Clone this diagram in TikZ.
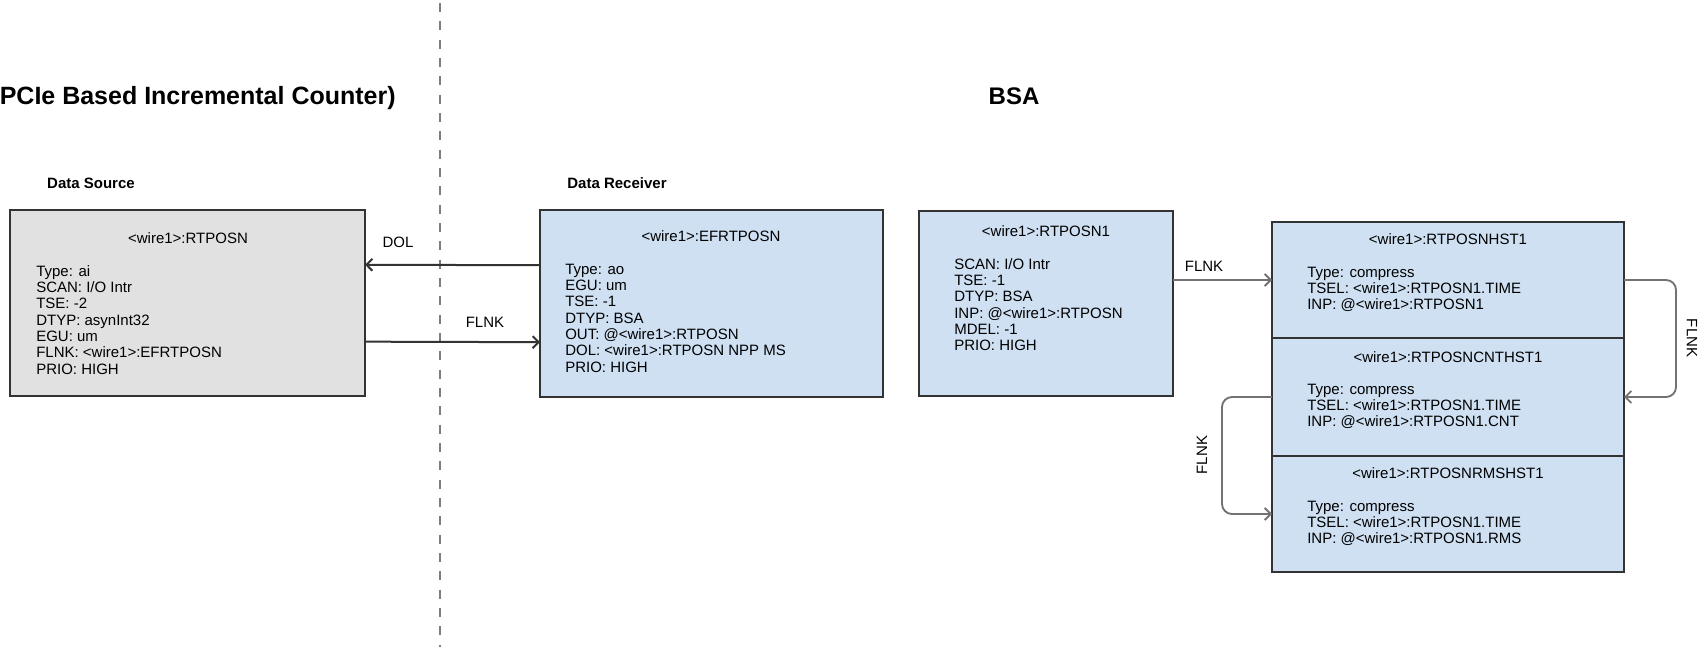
\documentclass[tikz,border=0pt]{standalone}
\usepackage{fontspec}
\setmainfont{Liberation Sans}
\usetikzlibrary{arrows.meta,fit}
\definecolor{boxline}{RGB}{51,51,51}
\definecolor{grayfill}{RGB}{225,225,225}
\definecolor{bluefill}{RGB}{206,224,242}
\definecolor{linkgray}{RGB}{115,115,115}
\definecolor{dashgray}{RGB}{125,125,125}
\newcommand{\bodyfont}{\fontsize{11.25pt}{12.25pt}\selectfont}
\newcommand{\headfont}{\fontsize{18pt}{21pt}\selectfont\bfseries}
\newcommand{\bigheadfont}{\fontsize{18.75pt}{21pt}\selectfont\bfseries}
\newcommand{\fl}{\rule{0pt}{11.25pt}}
\begin{document}
\begin{tikzpicture}[x=0.75pt,y=-0.75pt,
  recbox/.style={draw=boxline, line width=1.5pt, inner sep=0pt, outer sep=0pt},
  graybox/.style={recbox, fill=grayfill},
  bluebox/.style={recbox, fill=bluefill},
  ttl/.style={anchor=base, inner sep=0pt, font=\bodyfont},
  body/.style={anchor=north west, inner sep=0pt, align=left, font=\bodyfont},
  lbl/.style={inner sep=0pt, font=\bodyfont},
  sect/.style={anchor=base, inner sep=0pt, font=\bodyfont\bfseries},
  head/.style={inner sep=0pt, font=\headfont},
  tip/.style={-{Straight Barb[length=4.5pt,width=9pt]}},
  darklink/.style={tip, draw=boxline, line width=1.5pt},
  lightlink/.style={tip, draw=linkgray, line width=1.4pt, rounded corners=7.5pt},
  divider/.style={draw=dashgray, line width=1.5pt, dash pattern=on 6.75pt off 7pt}
]
\fill[white] (0,0) rectangle (1706,647);
\useasboundingbox (0,0) rectangle (1706,647);

% headings
\node[head, font=\bigheadfont, anchor=base east] (hleft) at (396,104) {PCIe Based Incremental Counter)};
\node[head, anchor=base] (hbsa) at (1014,104) {BSA};

% divider
\coordinate (dtop) at (440,3);
\coordinate (dbot) at (440,647);
\draw[divider] (dtop) -- (dbot);

% section labels
\node[sect] (lsrc) at (91,188) {Data Source};
\node[sect] (lrcv) at (617,188) {Data Receiver};

% boxes
\node[graybox, fit={(10,210) (365,396)}] (src) {};
\node[bluebox, fit={(540,210) (883,397)}] (rcv) {};
\node[bluebox, fit={(919,211) (1173,396)}] (bsa) {};
\node[bluebox, fit={(1272,222) (1624,338)}] (h1) {};
\node[bluebox, fit={(1272,338) (1624,456)}] (h2) {};
\node[bluebox, fit={(1272,456) (1624,572)}] (h3) {};

% box texts
\node[ttl] (srct) at (188,243) {<wire1>:RTPOSN};
\node[body] (srcb) at (36,261) {\fl Type: ai\\SCAN: I/O Intr\\TSE: -2\\DTYP: asynInt32\\EGU: um\\FLNK: <wire1>:EFRTPOSN\\PRIO: HIGH};

\node[ttl] (rcvt) at (711,241) {<wire1>:EFRTPOSN};
\node[body] (rcvb) at (565,259) {\fl Type: ao\\EGU: um\\TSE: -1\\DTYP: BSA\\OUT: @<wire1>:RTPOSN\\DOL: <wire1>:RTPOSN NPP MS\\PRIO: HIGH};

\node[ttl] (bsat) at (1046,236) {<wire1>:RTPOSN1};
\node[body] (bsab) at (954,254) {\fl SCAN: I/O Intr\\TSE: -1\\DTYP: BSA\\INP: @<wire1>:RTPOSN\\MDEL: -1\\PRIO: HIGH};

\node[ttl] (h1t) at (1448,244) {<wire1>:RTPOSNHST1};
\node[body] (h1b) at (1307,262) {\fl Type: compress\\TSEL: <wire1>:RTPOSN1.TIME\\INP: @<wire1>:RTPOSN1};

\node[ttl] (h2t) at (1448,362) {<wire1>:RTPOSNCNTHST1};
\node[body] (h2b) at (1307,379) {\fl Type: compress\\TSEL: <wire1>:RTPOSN1.TIME\\INP: @<wire1>:RTPOSN1.CNT};

\node[ttl] (h3t) at (1448,478) {<wire1>:RTPOSNRMSHST1};
\node[body] (h3b) at (1307,496) {\fl Type: compress\\TSEL: <wire1>:RTPOSN1.TIME\\INP: @<wire1>:RTPOSN1.RMS};

% connectors
\draw[darklink] ([yshift=28.7pt]rcv.west) -- ([yshift=28.7pt]src.east);
\node[lbl, anchor=base] (ldol) at (398,247) {DOL};
\draw[darklink] ([yshift=-29pt]src.east) -- ([yshift=-29pt]rcv.west);
\node[lbl, anchor=base] (lfl1) at (485,327) {FLNK};

\draw[lightlink] (bsa.east |- h1.west) -- (h1.west);
\node[lbl, anchor=base] (lfl2) at (1204,271) {FLNK};

\draw[lightlink] (h1.east) -- ++(52,0) |- (h2.east);
\node[lbl, rotate=-90] (lfl3) at (1692,338) {FLNK};

\draw[lightlink] (h2.west) -- ++(-50,0) |- (h3.west);
\node[lbl, rotate=90] (lfl4) at (1202,455) {FLNK};
\end{tikzpicture}
\end{document}
